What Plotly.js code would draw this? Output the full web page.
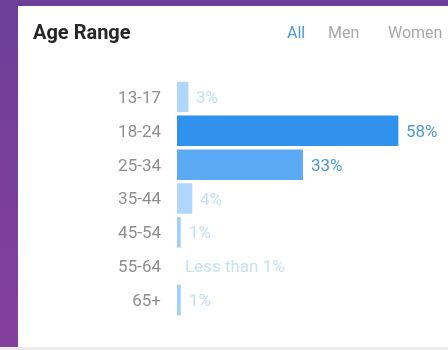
<!DOCTYPE html>
<html>
<head>
<meta charset="utf-8">
<script src="https://cdn.plot.ly/plotly-3.0.1.min.js"></script>
<style>
  html, body { margin: 0; padding: 0; width: 448px; height: 350px; overflow: hidden; }
  body { background: linear-gradient(180deg, #6d3f98 0%, #7c3f9a 60%, #853f9c 100%); position: relative; }
  #strip { position: absolute; left: 0; top: 347px; width: 448px; height: 3px; background: #ececec; }
  #chart { position: absolute; left: 18px; top: 6px; width: 430px; height: 341px; background: #fff; filter: blur(0.5px); }
</style>
</head>
<body>
<div id="chart"></div>
<div id="strip"></div>
<script>
// Data
const ageRanges = ["13-17", "18-24", "25-34", "35-44", "45-54", "55-64", "65+"];
const sharePct = [3, 58, 33, 4, 1, 0, 1];
const tabs = ["All", "Men", "Women"];
const chartTitle = "Age Range";

// Styles
const barColors = ["#b0d7fb", "#3192ee", "#5aaaf6", "#b0d7fb", "#a2d0fa", "#a2d0fa", "#a2d0fa"];
const labelColors = ["#c2def6", "#4d9bd6", "#4d9bd6", "#c2def6", "#c2def6", "#c8e1f6", "#c2def6"];
const FONT = "Roboto, 'Noto Sans', Arial, sans-serif";

const labels = sharePct.map(v => v >= 1 ? v + "%" : "Less than 1%");

const trace = {
  type: "bar",
  orientation: "h",
  y: ageRanges,
  x: sharePct,
  marker: { color: barColors, line: { width: 0 } },
  hoverinfo: "none"
};

const annotations = ageRanges.map((a, i) => ({
  x: sharePct[i], y: a, xref: "x", yref: "y",
  text: labels[i], showarrow: false, xanchor: "left", yanchor: "middle",
  xshift: 6, font: { family: FONT, size: 17, color: labelColors[i] }
}));

const tabX = [0.399, 0.55, 0.77];
const tabColors = ["#4d9bd6", "#a8a8a8", "#a8a8a8"];
tabs.forEach((t, i) => annotations.push({
  x: tabX[i], y: 1.2025, xref: "paper", yref: "paper",
  text: t, showarrow: false, xanchor: "left", yanchor: "middle",
  font: { family: FONT, size: 16, color: tabColors[i] }
}));

const layout = {
  width: 430, height: 341,
  margin: { l: 159, r: 0, t: 74, b: 30 },
  paper_bgcolor: "#ffffff",
  plot_bgcolor: "#ffffff",
  showlegend: false,
  bargap: 0.1,
  title: {
    text: "<b>" + chartTitle + "</b>",
    xref: "container", yref: "container",
    x: 15 / 430, xanchor: "left",
    y: 1 - 26 / 341, yanchor: "middle",
    font: { family: FONT, size: 20, color: "#262626" }
  },
  xaxis: {
    range: [0, 71], showgrid: false, zeroline: false, showline: false,
    showticklabels: false, ticks: "", fixedrange: true
  },
  yaxis: {
    autorange: "reversed", showgrid: false, zeroline: false, showline: false,
    ticks: "", ticklabelstandoff: 15,
    tickfont: { family: FONT, size: 17, color: "#8e8e8e" }, fixedrange: true
  },
  annotations: annotations
};

Plotly.newPlot("chart", [trace], layout, { displayModeBar: false, staticPlot: true });
</script>
</body>
</html>
